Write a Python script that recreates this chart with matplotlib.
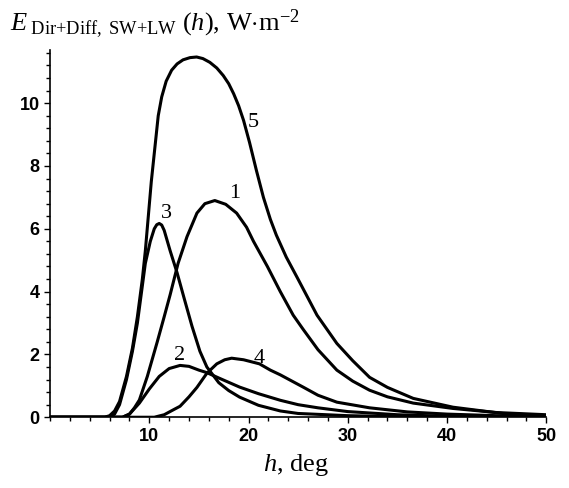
import numpy as np
import matplotlib.pyplot as plt
from matplotlib.ticker import MultipleLocator, FixedLocator

plt.rcParams['mathtext.fontset'] = 'custom'
plt.rcParams['mathtext.rm'] = 'Liberation Serif'
plt.rcParams['mathtext.it'] = 'Liberation Serif:italic'

# curve 5
x5 = [0, 5.5, 6, 6.5, 7, 7.7, 8.3, 8.8, 9.3, 9.6, 9.9, 10.2, 10.6, 10.9, 11.25, 11.7, 12.25,
      12.8, 13.4, 14.1, 14.77, 15.4, 16.1, 16.8, 17.45, 18.0, 18.5, 19.0, 19.5, 20.1, 20.8,
      21.5, 22.2, 22.8, 23.8, 24.9, 26.9, 28.9, 30.5, 32.2, 34, 36.6, 40.6, 45.6, 50]
y5 = [0, 0, 0.05, 0.2, 0.5, 1.3, 2.2, 3.2, 4.4, 5.3, 6.4, 7.5, 8.7, 9.6, 10.2, 10.7, 11.05,
      11.25, 11.38, 11.45, 11.47, 11.42, 11.3, 11.12, 10.88, 10.62, 10.3, 9.92, 9.45, 8.75, 7.85,
      7.0, 6.3, 5.8, 5.1, 4.45, 3.25, 2.35, 1.8, 1.27, 0.95, 0.6, 0.32, 0.12, 0.05]
# curve 1
x1 = [0, 7.3, 8, 8.5, 9, 9.8, 10.8, 11.5, 12.1, 12.9, 13.8, 14.8, 15.6, 16.6, 17.7, 18.8,
      19.8, 20.5, 21.2, 21.9, 23.2, 24.5, 25.5, 27, 28.9, 30.5, 32.2, 34, 36.6, 40.6, 45, 50]
y1 = [0, 0, 0.1, 0.3, 0.55, 1.3, 2.4, 3.2, 3.9, 4.9, 5.75, 6.5, 6.8, 6.9, 6.78, 6.5,
      6.05, 5.6, 5.2, 4.8, 4.0, 3.25, 2.8, 2.15, 1.5, 1.15, 0.86, 0.65, 0.45, 0.28, 0.15, 0.08]
# curve 3
x3 = [0, 6, 6.5, 7, 7.7, 8.3, 8.8, 9.6, 10.1, 10.5, 10.75, 11.0, 11.25, 11.5, 12.1, 12.8, 13.5,
      14.3, 15.1, 15.8, 17, 18, 19.1, 21, 23.2, 25, 30, 35, 50]
y3 = [0, 0, 0.1, 0.4, 1.2, 2.1, 3.0, 4.9, 5.6, 6.0, 6.13, 6.17, 6.12, 5.95, 5.3, 4.6, 3.8,
      2.9, 2.1, 1.6, 1.1, 0.85, 0.64, 0.38, 0.2, 0.12, 0.05, 0.02, 0]
# curve 2
x2 = [0, 7.3, 8, 9, 10, 11, 12, 13.1, 14, 15, 15.8, 17, 19.1, 21, 23.2, 25, 27, 30, 35, 40, 50]
y2 = [0, 0, 0.1, 0.45, 0.9, 1.3, 1.55, 1.65, 1.62, 1.5, 1.42, 1.25, 0.96, 0.75, 0.54, 0.4,
      0.3, 0.18, 0.08, 0.03, 0]
# curve 4
x4 = [0, 10.5, 11.5, 12.5, 13.1, 14, 14.8, 15.8, 16.8, 17.6, 18.3, 19.5, 21.1, 22.2, 23.2, 25.5,
      27, 28.9, 32.2, 36, 40, 45, 50]
y4 = [0, 0, 0.08, 0.25, 0.35, 0.65, 0.95, 1.4, 1.7, 1.83, 1.88, 1.83, 1.7, 1.5, 1.35, 0.96,
      0.7, 0.48, 0.3, 0.17, 0.1, 0.05, 0.03]

labels = ['5', '1', '3', '2', '4']
label_pos = [(19.9, 9.25), (18.0, 6.97), (11.2, 6.34), (12.5, 1.82), (20.5, 1.72)]

fig = plt.figure(figsize=(5.69, 4.88), dpi=100)
ax = fig.add_axes([0.088, 0.145, 0.872, 0.753])

for xs, ys in [(x5, y5), (x1, y1), (x3, y3), (x2, y2), (x4, y4)]:
    ax.plot(xs, ys, color='black', lw=2.2, solid_joinstyle='round')

for lab, (lx, ly) in zip(labels, label_pos):
    ax.text(lx, ly, lab, fontsize=16, family='Liberation Serif', ha='left', va='baseline')

ax.set_xlim(0, 50)
ax.set_ylim(0, 11.7)
for s in ['top', 'right']:
    ax.spines[s].set_visible(False)
for s in ['left', 'bottom']:
    ax.spines[s].set_linewidth(1.2)

ax.xaxis.set_major_locator(FixedLocator([10, 20, 30, 40, 50]))
ax.xaxis.set_minor_locator(MultipleLocator(2))
ax.yaxis.set_major_locator(FixedLocator([0, 2, 4, 6, 8, 10]))
ax.yaxis.set_minor_locator(MultipleLocator(0.4))
ax.tick_params(which='both', direction='out', width=1)
ax.tick_params(which='major', length=4, labelsize=13)
ax.tick_params(which='minor', length=3)
for t in ax.get_xticklabels() + ax.get_yticklabels():
    t.set_fontweight('bold')
    t.set_family('Liberation Sans')

fig.text(0.018, 0.935, r'$E_{\mathrm{\ Dir{+}Diff,\ SW{+}LW}}\ (h)$, W$\cdot$m$^{-2}$',
         fontsize=19, family='Liberation Serif', ha='left', va='baseline')
fig.text(0.52, 0.035, r'$h$, deg', fontsize=19, family='Liberation Serif', ha='center',
         va='baseline')

fig.savefig('out.png', dpi=100)
